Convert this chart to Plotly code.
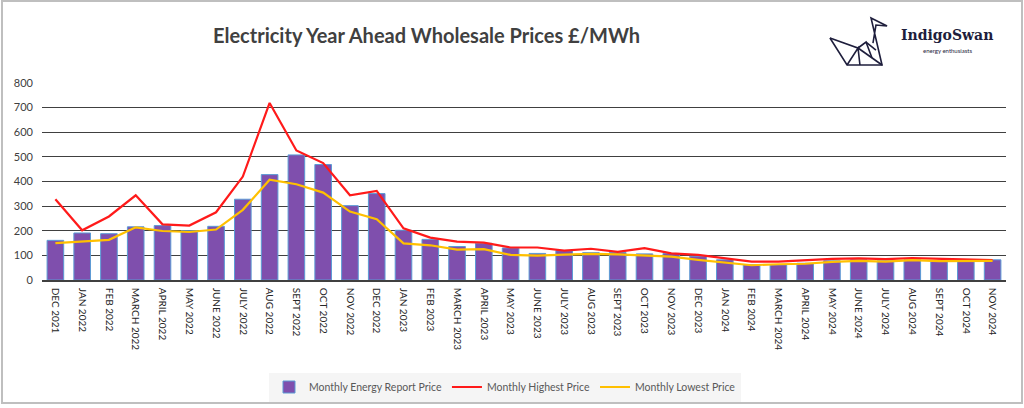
import plotly.graph_objects as go

months = ["DEC 2021", "JAN 2022", "FEB 2022", "MARCH 2022", "APRIL 2022", "MAY 2022", "JUNE 2022",
          "JULY 2022", "AUG 2022", "SEPT 2022", "OCT 2022", "NOV 2022", "DEC 2022",
          "JAN 2023", "FEB 2023", "MARCH 2023", "APRIL 2023", "MAY 2023", "JUNE 2023",
          "JULY 2023", "AUG 2023", "SEPT 2023", "OCT 2023", "NOV 2023", "DEC 2023",
          "JAN 2024", "FEB 2024", "MARCH 2024", "APRIL 2024", "MAY 2024", "JUNE 2024",
          "JULY 2024", "AUG 2024", "SEPT 2024", "OCT 2024", "NOV 2024"]

report_price = [161, 191, 188, 216, 221, 200, 218, 328, 428, 508, 469, 302, 351,
                202, 165, 136, 149, 130, 108, 119, 111, 112, 106, 108, 97,
                82, 62, 62, 68, 78, 82, 78, 82, 75, 78, 82]

highest_price = [328, 202, 258, 344, 226, 221, 275, 420, 719, 526, 475, 344, 362,
                 210, 172, 156, 152, 132, 132, 119, 127, 114, 129, 108, 102,
                 89, 75, 75, 82, 86, 88, 85, 89, 86, 86, 81]

lowest_price = [150, 155, 163, 214, 199, 195, 205, 285, 407, 389, 355, 278, 247,
                149, 141, 123, 125, 102, 99, 103, 106, 104, 100, 95, 82,
                71, 60, 64, 66, 74, 78, 75, 81, 77, 79, 78]

y_ticks = [0, 100, 200, 300, 400, 500, 600, 700, 800]

W, H = 1024, 408
L, R, T, B = 42, 18, 83, 128
PW, PH = W - L - R, H - T - B


def px(x):
    return (x - L) / PW


def py(y):
    return (H - B - y) / PH


fig = go.Figure()
fig.add_trace(go.Bar(
    x=months, y=report_price, name="Monthly Energy Report Price",
    marker=dict(color="#7F4FAD", line=dict(color="#5B9BD5", width=1)),
))
fig.add_trace(go.Scatter(
    x=months, y=highest_price, name="Monthly Highest Price", mode="lines",
    line=dict(color="#FF1A1A", width=2.2),
))
fig.add_trace(go.Scatter(
    x=months, y=lowest_price, name="Monthly Lowest Price", mode="lines",
    line=dict(color="#FFC000", width=2.2),
))

# swan logo outline (decoration)
swan_pts = [
    [(830, 38), (847, 65), (882, 65), (871, 18), (887, 26), (876, 25), (873, 43)],
    [(830, 38), (858, 48), (866, 42), (872, 58)],
    [(847, 65), (858, 48), (860, 65)],
    [(858, 48), (882, 65)],
    [(866, 42), (876, 50)],
]
shapes = []
for seg in swan_pts:
    path = "M " + " L ".join(f"{px(a):.4f},{py(b):.4f}" for a, b in seg)
    shapes.append(dict(type="path", xref="paper", yref="paper", path=path,
                       line=dict(color="#1E1E3C", width=1.6)))

# outer border
shapes.append(dict(type="rect", xref="paper", yref="paper",
                   x0=px(2), x1=px(1022), y0=py(403), y1=py(1),
                   line=dict(color="#BFBFBF", width=2), fillcolor="rgba(0,0,0,0)"))

fig.update_layout(
    width=W, height=H,
    margin=dict(l=L, r=R, t=T, b=B, autoexpand=False),
    paper_bgcolor="white", plot_bgcolor="white",
    font=dict(family="Lato, Open Sans, sans-serif", color="#404040"),
    bargap=0.38,
    showlegend=True,
    legend=dict(orientation="h", x=px(505), xanchor="center", y=py(387), yanchor="middle",
                bgcolor="#F5F5F5", font=dict(size=10.5, color="#595959"),
                itemwidth=30),
    shapes=shapes,
    annotations=[
        dict(text="Electricity Year Ahead Wholesale Prices £/MWh", xref="paper", yref="paper",
             x=px(426), y=py(35), xanchor="center", yanchor="middle", showarrow=False,
             font=dict(size=20, color="#404040", family="Lato, sans-serif", weight="bold")),
        dict(text="IndigoSwan", xref="paper", yref="paper",
             x=px(947), y=py(35), xanchor="center", yanchor="middle", showarrow=False,
             font=dict(size=14, color="#1E1E3C", family="DejaVu Serif, serif", weight="bold")),
        dict(text="energy enthusiasts", xref="paper", yref="paper",
             x=px(947), y=py(50), xanchor="center", yanchor="middle", showarrow=False,
             font=dict(size=6, color="#1E1E3C", family="Lato, sans-serif")),
    ],
)
fig.update_xaxes(
    tickangle=90, tickfont=dict(size=10, color="#262626"),
    showline=True, linecolor="#404040", linewidth=1.5, showgrid=False,
    ticks="", ticklabelstandoff=4,
)
fig.update_yaxes(
    range=[0, 800], tickvals=y_ticks, tickfont=dict(size=11, color="#404040"),
    showgrid=True, gridcolor="#404040", gridwidth=1.3,
    zeroline=False, showline=False, ticks="", ticklabelstandoff=8,
)

fig.write_html("out.html", config={"displayModeBar": False},
               post_script="document.body.style.margin='0';")
